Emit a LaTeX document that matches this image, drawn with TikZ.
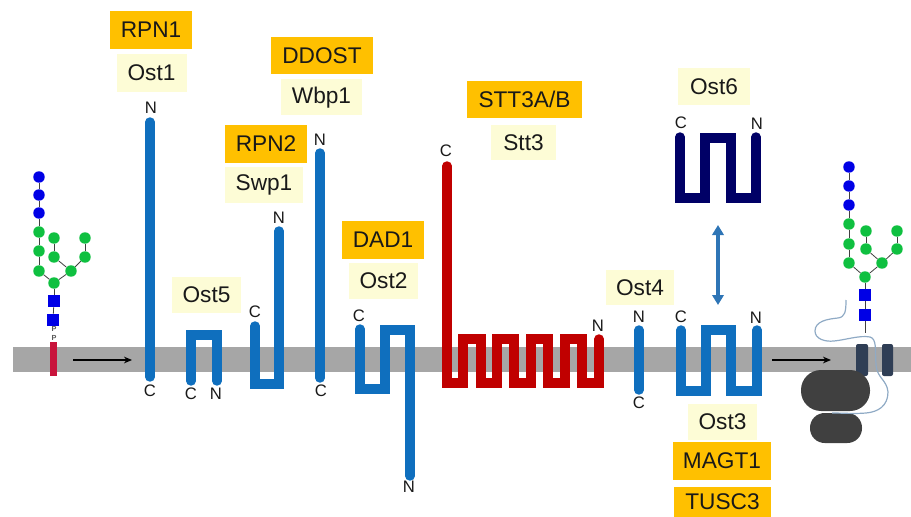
\documentclass[tikz,border=0pt]{standalone}
\usepackage{fontspec}
\setmainfont{Liberation Sans}
\usetikzlibrary{arrows.meta}
\definecolor{tmblue}{HTML}{0F6FBE}
\definecolor{tmred}{HTML}{C00000}
\definecolor{tmnavy}{HTML}{000066}
\definecolor{membrane}{HTML}{A6A6A6}
\definecolor{sugarblue}{HTML}{0000E6}
\definecolor{sugargreen}{HTML}{0FC040}
\definecolor{dolichol}{HTML}{C8143C}
\definecolor{orangefill}{HTML}{FFC000}
\definecolor{palefill}{HTML}{FDFCD6}
\definecolor{secblue}{HTML}{2F3E55}
\definecolor{ribosome}{HTML}{404040}
\definecolor{chain}{HTML}{8FAAC5}
\definecolor{exchange}{HTML}{2E75B6}
\tikzset{
  wh/.style 2 args={minimum width=#1*0.75pt,minimum height=#2*0.75pt},
  namebox/.style={inner sep=0pt,text=black!90,font=\fontsize{17}{18}\selectfont},
  human/.style={namebox,fill=orangefill},
  yeast/.style={namebox,fill=palefill},
  term/.style={inner sep=0pt,text=black!90,font=\fontsize{12.5}{13}\selectfont},
  tube/.style={line width=7.1pt,line cap=round,line join=miter},
  man/.style={circle,inner sep=0pt,minimum size=8.6pt,fill=sugarblue},
  glc/.style={circle,inner sep=0pt,minimum size=8.6pt,fill=sugargreen},
  nag/.style={rectangle,inner sep=0pt,minimum size=9pt,fill=sugarblue},
  phos/.style={inner sep=0pt,text=black!65,font=\fontsize{5.5}{6}\bfseries\selectfont},
  bond/.style={draw=black!75,line width=0.6pt},
  flow/.style={draw=black,line width=0.8pt,-{Stealth[length=6pt,width=5pt]}},
}
\begin{document}
\begin{tikzpicture}[x=0.75pt,y=-0.75pt]
\useasboundingbox (0,0) rectangle (911,517);

% membrane band
\fill[membrane] (13,347) rectangle (911,372);

% lipid-linked oligosaccharide on the left
\node[man] (a1) at (39,177) {};
\node[man] (a2) at (39,195) {};
\node[man] (a3) at (39,213) {};
\node[glc] (a4) at (39,232) {};
\node[glc] (a5) at (39,251) {};
\node[glc] (a6) at (39,271) {};
\node[glc] (a7) at (54,283) {};
\node[glc] (a8) at (71,271) {};
\node[glc] (a9) at (54,257) {};
\node[glc] (a10) at (54,238) {};
\node[glc] (a11) at (85,257) {};
\node[glc] (a12) at (85,238) {};
\node[nag] (a13) at (54,301) {};
\node[nag] (a14) at (53,320) {};
\node[phos] (ap1) at (54,329) {P};
\node[phos] (ap2) at (54,338) {P};
\fill[dolichol] (50,342) rectangle (57,376);

% Ost1 / RPN1
\draw[tube,tmblue] (150,122) -- (150,377);
% Ost5
\draw[tube,tmblue] (191,381) -- (191,335) -- (217,335) -- (217,381);
% Swp1 / RPN2
\draw[tube,tmblue] (255,326) -- (255,384) -- (279,384) -- (279,231);
% Wbp1 / DDOST
\draw[tube,tmblue] (320,153) -- (320,378);
% Ost2 / DAD1
\draw[tube,tmblue] (360,329) -- (360,389) -- (385,389) -- (385,330) -- (410,330) -- (410,476);
% Stt3 catalytic subunit
\draw[tube,tmred] (447,166) -- (447,383) -- (463,383) -- (463,339) -- (481,339) -- (481,383)
  -- (497,383) -- (497,339) -- (514,339) -- (514,383) -- (531,383) -- (531,339)
  -- (548,339) -- (548,383) -- (565,383) -- (565,339) -- (582,339) -- (582,383)
  -- (599,383) -- (599,339);
% Ost4
\draw[tube,tmblue] (639,330) -- (639,390);
% Ost3
\draw[tube,tmblue] (681,330) -- (681,391) -- (706,391) -- (706,330) -- (731,330) -- (731,391) -- (757,391) -- (757,330);
% Ost6
\draw[tube,tmnavy] (680,137) -- (680,198) -- (705,198) -- (705,138) -- (731,138) -- (731,198) -- (756,198) -- (756,137);

% translocon, ribosome and the nascent chain
\fill[secblue,rounded corners=1.5pt] (856,344) rectangle (868,376);
\fill[secblue,rounded corners=1.5pt] (882,344) rectangle (893,376);
\fill[ribosome,rounded corners=15pt] (801,370) rectangle (870,411);
\fill[ribosome,rounded corners=11pt] (810,413) rectangle (862,443);
\coordinate (chainstart) at (846,300);
\coordinate (chainend) at (832,413);
\draw[chain,line width=0.9pt] (chainstart) .. controls (846,312) and (845,317) .. (838,318)
  .. controls (828,319) and (815,321) .. (815,331)
  .. controls (815,339) and (825,342) .. (834,341)
  .. controls (845,340) and (860,335) .. (870,337)
  .. controls (877,339) and (875,350) .. (876,365)
  .. controls (877,378) and (887,380) .. (888,392)
  .. controls (888,406) and (878,412) .. (866,413)
  .. controls (855,414) and (843,413) .. (chainend);

% glycan transferred to the nascent chain
\node[man] (b1) at (849,167) {};
\node[man] (b2) at (849,186) {};
\node[man] (b3) at (849,205) {};
\node[glc] (b4) at (849,224) {};
\node[glc] (b5) at (849,244) {};
\node[glc] (b6) at (849,263) {};
\node[glc] (b7) at (865,277) {};
\node[glc] (b8) at (882,263) {};
\node[glc] (b9) at (866,249) {};
\node[glc] (b10) at (866,231) {};
\node[glc] (b11) at (897,249) {};
\node[glc] (b12) at (897,231) {};
\node[nag] (b13) at (865,295) {};
\node[nag] (b14) at (865,315) {};
\coordinate (asn) at (865,333);

% glycosidic bonds
\foreach \p in {a,b}{
  \foreach \u/\v in {1/2,2/3,3/4,4/5,5/6,6/7,7/8,8/9,8/11,9/10,11/12,7/13,13/14}{
    \draw[bond] (\p\u) -- (\p\v);
  }
}
\draw[bond] (b14) -- (asn);
\draw[bond,black!60] (a14) -- (ap1);

% reaction arrows and the Ost3/Ost6 exchange
\coordinate (f1a) at (73,360);
\coordinate (f1b) at (132,360);
\coordinate (f2a) at (772,360);
\coordinate (f2b) at (831,360);
\coordinate (exa) at (718,225);
\coordinate (exb) at (718,305);
\draw[flow] (f1a) -- (f1b);
\draw[flow] (f2a) -- (f2b);
\draw[exchange,line width=2.6pt,{Triangle[length=7.5pt,width=8.5pt]}-{Triangle[length=7.5pt,width=8.5pt]}] (exa) -- (exb);

% subunit names
\node[human,wh={82}{38}] (rpn1) at (151,30) {RPN1};
\node[yeast,wh={70}{38}] (ost1) at (151.5,73) {Ost1};
\node[human,wh={102}{37}] (ddost) at (322,55.5) {DDOST};
\node[yeast,wh={81}{36}] (wbp1) at (321.5,97.5) {Wbp1};
\node[human,wh={82}{38}] (rpn2) at (266,144) {RPN2};
\node[yeast,wh={78}{36}] (swp1) at (264,185) {Swp1};
\node[human,wh={82}{38}] (dad1) at (383,240) {DAD1};
\node[yeast,wh={69}{36}] (ost2) at (383.5,281) {Ost2};
\node[yeast,wh={69}{36}] (ost5) at (206.5,295) {Ost5};
\node[human,wh={115}{37}] (stt3ab) at (524.5,99.5) {STT3A/B};
\node[yeast,wh={65}{35}] (stt3) at (523.5,142.5) {Stt3};
\node[yeast,wh={72}{37}] (ost6) at (714,86.5) {Ost6};
\node[yeast,wh={68}{35}] (ost4) at (640,287.5) {Ost4};
\node[yeast,wh={69}{36}] (ost3) at (722.5,422) {Ost3};
\node[human,wh={98}{38}] (magt1) at (722,461) {MAGT1};
\node[human,wh={97}{30}] (tusc3) at (722.5,502) {TUSC3};

% N and C termini
\node[term] (t1n) at (151,108) {N};
\node[term] (t1c) at (150,391) {C};
\node[term] (t5c) at (191,394) {C};
\node[term] (t5n) at (216,394) {N};
\node[term] (t2c) at (255,312) {C};
\node[term] (t2n) at (279,218) {N};
\node[term] (t3n) at (320,140) {N};
\node[term] (t3c) at (321,391) {C};
\node[term] (t4c) at (359,316) {C};
\node[term] (t4n) at (409,487) {N};
\node[term] (t6c) at (446,151) {C};
\node[term] (t6n) at (598,326) {N};
\node[term] (t7n) at (639,317) {N};
\node[term] (t7c) at (639,403) {C};
\node[term] (t8c) at (681,317) {C};
\node[term] (t8n) at (756,318) {N};
\node[term] (t9c) at (681,123) {C};
\node[term] (t9n) at (757,124) {N};
\end{tikzpicture}
\end{document}
